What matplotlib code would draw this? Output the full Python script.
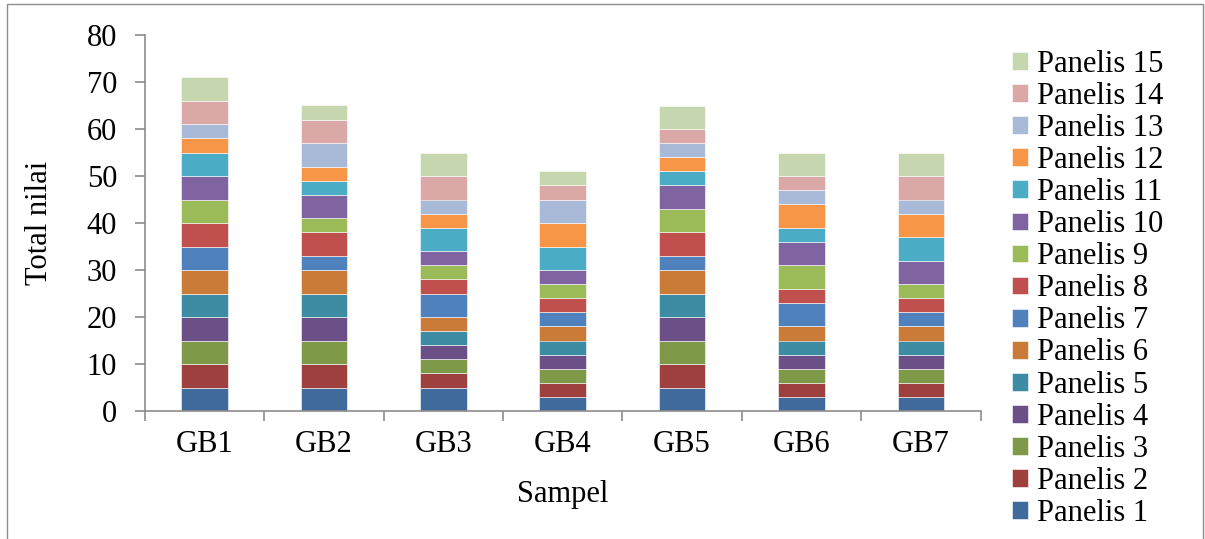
import matplotlib
matplotlib.use("Agg")
import matplotlib.pyplot as plt
from matplotlib.patches import Rectangle
import numpy as np

samples = ["GB1", "GB2", "GB3", "GB4", "GB5", "GB6", "GB7"]
panel_names = [f"Panelis {i}" for i in range(1, 16)]

# scores per panelist (rows) for each sample (columns)
panelis_1 = [5, 5, 5, 3, 5, 3, 3]
panelis_2 = [5, 5, 3, 3, 5, 3, 3]
panelis_3 = [5, 5, 3, 3, 5, 3, 3]
panelis_4 = [5, 5, 3, 3, 5, 3, 3]
panelis_5 = [5, 5, 3, 3, 5, 3, 3]
panelis_6 = [5, 5, 3, 3, 5, 3, 3]
panelis_7 = [5, 3, 5, 3, 3, 5, 3]
panelis_8 = [5, 5, 3, 3, 5, 3, 3]
panelis_9 = [5, 3, 3, 3, 5, 5, 3]
panelis_10 = [5, 5, 3, 3, 5, 5, 5]
panelis_11 = [5, 3, 5, 5, 3, 3, 5]
panelis_12 = [3, 3, 3, 5, 3, 5, 5]
panelis_13 = [3, 5, 3, 5, 3, 3, 3]
panelis_14 = [5, 5, 5, 3, 3, 3, 5]
panelis_15 = [5, 3, 5, 3, 5, 5, 5]

scores = [panelis_1, panelis_2, panelis_3, panelis_4, panelis_5,
          panelis_6, panelis_7, panelis_8, panelis_9, panelis_10,
          panelis_11, panelis_12, panelis_13, panelis_14, panelis_15]

colors = ["#3F6A9B", "#9D403E", "#7E9A48", "#6A5087", "#3D8CA3",
          "#CB7B38", "#4F81BD", "#C0504D", "#9BBB59", "#8064A2",
          "#4BACC6", "#F79646", "#A9B9D8", "#D9A8A7", "#C6D6AE"]

plt.rcParams["font.family"] = ["Liberation Serif", "DejaVu Serif"]
FS = 22

fig = plt.figure(figsize=(12.05, 5.39), dpi=100)
ax = fig.add_axes([145 / 1205, 1 - 411 / 539, (980.5 - 145) / 1205, (411 - 35) / 539])

x = np.arange(len(samples))
bottom = np.zeros(len(samples))
handles = []
for vals, col, name in zip(scores, colors, panel_names):
    h = ax.bar(x, vals, width=0.39, bottom=bottom, color=col,
               edgecolor="white", linewidth=0.4, label=name, zorder=2)
    handles.append(h)
    bottom += np.array(vals)

ax.set_xlim(-0.5, len(samples) - 0.5)
ax.set_ylim(0, 80)
ax.set_yticks(range(0, 81, 10))
ax.set_xticks(x)
ax.set_xticklabels(samples)
ax.set_xticks(np.arange(-0.5, len(samples), 1.0), minor=True)

for side in ("top", "right"):
    ax.spines[side].set_visible(False)
for side in ("left", "bottom"):
    ax.spines[side].set_color("#8C8C8C")
    ax.spines[side].set_linewidth(1.2)

ax.tick_params(axis="y", direction="out", length=7, width=1.2, color="#8C8C8C",
               labelsize=FS, pad=13)
ax.tick_params(axis="x", which="major", length=0, labelsize=FS, pad=14)
ax.tick_params(axis="x", which="minor", direction="out", length=7, width=1.2,
               color="#8C8C8C")

ax.set_ylabel("Total nilai", fontsize=FS, labelpad=24)
ax.set_xlabel("Sampel", fontsize=FS, labelpad=15)

leg = fig.legend(handles[::-1], panel_names[::-1], loc="upper left",
                 bbox_to_anchor=(1012 / 1205, 1 - 50 / 539), frameon=False,
                 fontsize=FS, labelspacing=0.1, handlelength=0.52,
                 handleheight=0.52, handletextpad=0.3, borderaxespad=0,
                 borderpad=0)

# outer frame
fig.patches.append(Rectangle((7 / 1205, -0.05), (1203 - 7) / 1205, 1.05 - 3.5 / 539,
                             transform=fig.transFigure, fill=False,
                             edgecolor="#8C8C8C", linewidth=1.0))

fig.savefig("out.png", dpi=100)
